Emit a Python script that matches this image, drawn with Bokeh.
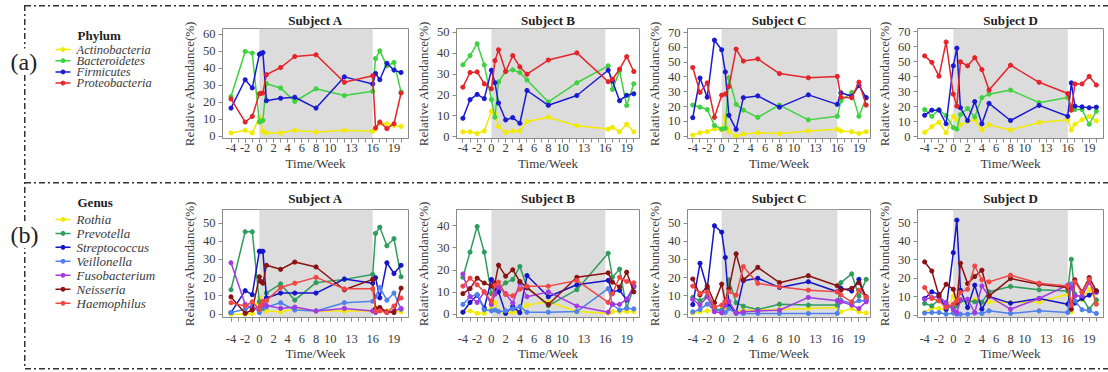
import numpy as np
from bokeh.plotting import figure
from bokeh.models import (Range1d, FixedTicker, BoxAnnotation, Label, Spacer, Styles,
                          ColumnDataSource)
from bokeh.core.properties import value
from bokeh.layouts import row, column
from bokeh.embed import file_html
from bokeh.resources import INLINE

SERIF = "Liberation Serif"

# ---------------- data ----------------
x_tick_values = [-4, -2, 0, 2, 4, 6, 8, 10, 13, 16, 19]
x_minor_ticks = list(range(-4, 21))
subjects = ["Subject A", "Subject B", "Subject C", "Subject D"]

weeks_A = [-4, -2, -1, 0, 0.2, 0.5, 1, 3, 5, 8, 12, 16, 16.4, 17, 18, 19, 20]
weeks_B = [-4, -3, -2, -1, 0, 0.5, 1, 2, 3, 4, 5, 8, 12, 16.4, 17, 18, 19, 20]
weeks_C = [-4, -3, -2, -1, 0, 0.5, 1, 2, 3, 5, 8, 12, 16, 16.5, 18, 19, 20]
weeks_D = [-4, -3, -2, -1, 0, 0.5, 1, 2, 3, 4, 5, 8, 12, 16, 16.5, 17, 18, 19, 20]

phylum_names = ["Actinobacteria", "Bacteroidetes", "Firmicutes", "Proteobacteria"]
phylum_colors = ["#f2ea00", "#3fd23f", "#1a1ad2", "#e4242a"]

phylum_A = {
    "Actinobacteria": [2, 3.5, 2, 11, 9, 3, 2, 2, 3.5, 2.5, 3.5, 3, 4.5, 7.8, 7.4, 6.4, 5.8],
    "Bacteroidetes": [23.4, 50, 49, 8.4, 8.8, 9.4, 31, 28.5, 20.5, 28, 24, 26.5, 45.8, 50.3, 41.5, 43.5, 26],
    "Firmicutes": [16.6, 33.3, 28.5, 48.3, 48.8, 49.3, 21, 22.4, 23, 16.6, 35, 30.8, 37, 33.3, 43, 39, 37.6],
    "Proteobacteria": [22, 8.4, 11.7, 25, 25.3, 25.5, 36.3, 40.5, 47, 48, 31.8, 35.7, 4.9, 8.4, 4.5, 7.4, 25.5],
}
phylum_B = {
    "Actinobacteria": [2.4, 2.4, 1.6, 2.8, 12.2, 11, 5, 2.1, 2.8, 2.8, 7.3, 9.4, 5.3, 3.7, 4.5, 2.4, 6, 2.4],
    "Bacteroidetes": [34.5, 38.9, 44.6, 34.4, 17.8, 9.4, 26.3, 31.3, 32.1, 30.8, 27.2, 16.7, 25.9, 34, 22.7, 31.6, 15, 25.4],
    "Firmicutes": [8.9, 17.8, 20.3, 18.3, 31.9, 25.9, 16.2, 8.1, 9.2, 6.5, 22.2, 15.1, 19.8, 31.9, 26.7, 17.3, 19.9, 20.6],
    "Proteobacteria": [23.8, 30.8, 31.1, 25.4, 23, 36.5, 41.7, 31.3, 38.9, 33.5, 30, 36.8, 40.2, 26.4, 27.6, 32.4, 38.4, 31.3],
}
phylum_C = {
    "Actinobacteria": [0.7, 2.3, 3, 4.8, 4.2, 13.4, 3, 0, 1.4, 2.3, 1.8, 3.5, 4.6, 3.5, 3, 1.8, 3],
    "Bacteroidetes": [21, 19.6, 18, 7.2, 4.8, 5.3, 39.5, 21.5, 17.6, 12.7, 21, 11, 13.4, 23.8, 29.6, 13.4, 26],
    "Firmicutes": [12.5, 39.3, 26.3, 64.9, 58.4, 43.4, 14.1, 4.6, 26, 27.2, 19.6, 27.9, 21.5, 29.3, 27, 34.2, 26],
    "Proteobacteria": [46.4, 29.6, 36, 12.7, 27.7, 28.4, 33.5, 58.9, 50.8, 52.2, 42.3, 39.5, 40.4, 26.3, 25.9, 36.5, 21],
}
phylum_D = {
    "Actinobacteria": [3, 6.8, 9.8, 2.7, 13.7, 11.4, 8, 10.3, 11.4, 4.6, 8, 4.6, 9.6, 11.4, 4.6, 8.4, 11.4, 13.7, 10.7],
    "Bacteroidetes": [18.2, 13.7, 18.2, 14.1, 6.2, 5.2, 14.8, 18.9, 13.2, 26.2, 28.5, 31.2, 22.8, 26.2, 20, 18.2, 18.2, 8.4, 17.1],
    "Firmicutes": [14.4, 17.8, 17.8, 8.7, 47.4, 59.2, 19.4, 10.9, 23.5, 8.7, 22.3, 10.9, 21, 13.7, 36, 20.5, 20, 19.4, 19.8],
    "Proteobacteria": [54, 49.7, 40.5, 63.3, 28.5, 20.5, 50.1, 47.4, 52.8, 44.9, 31.2, 47.8, 36.4, 28.9, 17.8, 35.3, 35.3, 40.3, 34.6],
}

genus_names = ["Rothia", "Prevotella", "Streptococcus", "Veillonella",
               "Fusobacterium", "Neisseria", "Haemophilus"]
genus_colors = ["#f2ea00", "#2e9d5c", "#1414c8", "#4f80ee", "#a33ae0", "#8a1212", "#f04646"]

genus_A = {
    "Rothia": [0, 0, 0.4, 8.9, 6, 3.6, 1.8, 1.3, 2.7, 1.8, 1.8, 1.8, 3.6, 2.1, 1.8, 1.8, 1.3],
    "Prevotella": [13.4, 45.2, 45.2, 6.9, 5, 3, 11.6, 16.6, 7.7, 17.3, 19.1, 21.8, 44.3, 47.7, 37.5, 41.4, 20.5],
    "Streptococcus": [0.9, 12.9, 10.7, 34.5, 34.5, 34.5, 8.9, 11.6, 11.6, 11.6, 19.3, 17, 20, 9, 28.2, 22.3, 26.8],
    "Veillonella": [0.9, 2.7, 4.5, 0.9, 3, 4.5, 3.9, 6.3, 2.3, 1.8, 6.3, 7.1, 9.8, 14.6, 7.7, 11.6, 2.7],
    "Fusobacterium": [28.2, 5.4, 3.2, 3.6, 4.5, 5, 4.8, 3.2, 3.9, 1.8, 3.2, 1.8, 0.9, 3.6, 0.9, 1.8, 3.2],
    "Neisseria": [9.5, 0.5, 2.3, 20.5, 18, 17, 26.8, 24.6, 28.6, 25.9, 13.4, 19.1, 3, 3.6, 1.3, 0.9, 14.3],
    "Haemophilus": [6.3, 4.5, 6.8, 2.7, 5, 7.1, 7.5, 14.6, 17, 20.2, 13.9, 13.9, 1.8, 1.8, 0.9, 4.5, 8.9],
}
genus_B = {
    "Rothia": [0.9, 1.5, 0.4, 0.4, 3.4, 5.3, 1.5, 0.4, 0.9, 1.2, 4.1, 5.6, 1.2, 0.4, 1.2, 1.2, 1.2, 1.2],
    "Prevotella": [16.7, 28.1, 39.7, 28.1, 9.3, 10.5, 11.6, 14.2, 15.7, 21.6, 12.3, 3.9, 11.1, 27.6, 16.7, 20.4, 2.7, 12.3],
    "Streptococcus": [0.9, 5.3, 8.6, 2.7, 15.7, 11.6, 10.1, 0.4, 3.4, 0.7, 17.5, 7.9, 13.3, 15.3, 10.1, 10.8, 6.4, 12.7],
    "Veillonella": [4.4, 7.9, 8.9, 2, 1.5, 1.9, 1.2, 1.5, 2.4, 3.4, 0.9, 0.9, 1.2, 11.6, 4.4, 1.9, 2.7, 2.4],
    "Fusobacterium": [18.2, 7.9, 5.3, 10.1, 4.4, 9, 12.3, 9.3, 5, 14.2, 7.9, 10.1, 3.7, 0.9, 4.6, 4.4, 6.8, 12.7],
    "Neisseria": [9.3, 11.6, 16.3, 14.1, 12.7, 14.2, 22.2, 17.2, 20.1, 14.8, 11.9, 4.4, 16.7, 18.7, 14.5, 12.3, 19, 10.1],
    "Haemophilus": [12.7, 16.3, 13.3, 10.1, 5.9, 13, 14.5, 8.9, 8.3, 11.3, 12.7, 12.7, 15.3, 5.3, 9.3, 16.7, 14.8, 14.2],
}
genus_C = {
    "Rothia": [0.7, 1.3, 1.8, 2.2, 2.6, 3.1, 4, 1.3, 2.2, 2.2, 2.6, 3.1, 3.7, 1.3, 3.1, 1.3, 0.7],
    "Prevotella": [9.2, 7.4, 9.9, 3.1, 2.2, 5, 18.8, 6.3, 4.4, 2.6, 5.5, 5, 5, 17.3, 22.1, 9.9, 19.1],
    "Streptococcus": [5.3, 27.9, 14.2, 48.5, 45, 31.1, 5, 0.7, 18.4, 19.7, 14.7, 17.8, 12.3, 14.2, 12.7, 19.1, 8.1],
    "Veillonella": [1.3, 2.6, 5.5, 2.2, 1.8, 1, 3, 0.4, 0.4, 0.4, 0.4, 0.4, 0.4, 7.7, 5.9, 7.4, 7.4],
    "Fusobacterium": [8.1, 5, 9.6, 1.3, 0.7, 5, 7, 0.7, 1.3, 1.8, 2.2, 9.2, 7.4, 6.8, 5, 3.1, 6.8],
    "Neisseria": [19.3, 10.5, 15.4, 6.3, 16.5, 6.8, 14, 33.1, 18.8, 25.7, 17.3, 21.1, 15.6, 13.2, 14.2, 17.3, 9.6],
    "Haemophilus": [15.4, 11.4, 12.3, 4, 5, 6.8, 12.3, 10.5, 26.1, 16.9, 15.1, 13.2, 12.3, 10.5, 6.8, 13.2, 9.2],
}
genus_D = {
    "Rothia": [1.4, 4.1, 3.6, 2.9, 10.4, 5, 8.6, 6.8, 8.3, 6.8, 7.2, 6.8, 7.2, 11.3, 1.8, 7.7, 8.3, 14, 7.7],
    "Prevotella": [6.3, 5, 8.3, 4.1, 4.1, 5, 7.7, 7.7, 7.2, 7, 12.6, 15.5, 13.7, 13.1, 30.2, 11.3, 9.5, 3.2, 8.3],
    "Streptococcus": [9, 12.6, 11.3, 3, 33.8, 51.4, 13.5, 4.1, 16.2, 3.2, 10.1, 6.5, 9, 5.9, 16.7, 6.5, 9, 10.8, 13.1],
    "Veillonella": [1.1, 1.4, 1.4, 0.5, 1.1, 0.5, 0.5, 0.5, 1.1, 0.9, 2.3, 0.9, 2.3, 1.4, 16.7, 7.7, 2.9, 2.3, 0.9],
    "Fusobacterium": [8.6, 9.5, 10.1, 6.8, 3, 1.4, 8.3, 8.6, 1.4, 15.8, 10.1, 3.2, 9, 16.2, 14.9, 10.4, 10.4, 17.6, 12.2],
    "Neisseria": [28.8, 23.9, 10.4, 16.7, 14, 6.8, 28.1, 17.1, 20.9, 24.3, 10.4, 19.8, 16.7, 14.9, 3.2, 19.1, 12.6, 20.3, 13.1],
    "Haemophilus": [14.9, 9, 7.7, 4.1, 6, 7.7, 12.2, 14, 26.6, 19.1, 18, 21.6, 17.3, 15.8, 5.4, 18, 12.2, 19.4, 5.9],
}

treatment_start, treatment_end = 0, 16

phylum_yticks = [list(range(0, 61, 10)), list(range(0, 51, 10)), list(range(0, 71, 10)), list(range(0, 71, 10))]
genus_yticks = [list(range(0, 51, 10)), list(range(0, 41, 10)), list(range(0, 51, 10)), list(range(0, 51, 10))]

# ---------------- layout / style ----------------
x_ranges = [(-5.2, 21.05), (-4.9, 20.8), (-4.73, 20.6), (-5.0, 21.0)]
phylum_yranges = [(-1.3, 63.5), (-0.8, 51.9), (-1.6, 72.8), (-1.1, 72.3)]
genus_yranges = [(-1.8, 57.4), (-1.5, 47.4), (-1.8, 57.4), (-1.3, 57.2)]
border_left = [42, 40, 41, 40]
border_right = [4, 4, 3, 5]
frame_w = [188, 187, 186, 190]
LEG_W = 178
TXT = "#3a3a3a"
AX = "#8a8a8a"


def panel(title, weeks, series, names, colors, xr, yr, yticks, h, bt, bb, bl, br, fw,
          title_standoff, xlabel_standoff, xaxis_label_standoff):
    p = figure(width=bl + fw + br, height=h, x_range=Range1d(*xr), y_range=Range1d(*yr),
               output_backend="svg", toolbar_location=None,
               min_border_left=bl, min_border_right=br, min_border_top=bt,
               min_border_bottom=bb, title=title, border_fill_color=None)
    p.title.text_font = SERIF
    p.title.text_font_style = "bold"
    p.title.text_font_size = "13px"
    p.title.align = "center"
    p.title.text_color = "#222222"
    p.title.standoff = title_standoff
    p.xgrid.visible = False
    p.ygrid.visible = False
    p.outline_line_color = AX
    p.outline_line_width = 1
    p.add_layout(BoxAnnotation(left=treatment_start, right=treatment_end, fill_color="#dcdcdc",
                               fill_alpha=1.0, line_color=None, level="underlay"))
    for n, c in zip(names, colors):
        p.line(weeks, series[n], line_color=c, line_width=1.5)
        p.scatter(weeks, series[n], size=4.2, fill_color=c, line_color=c)
    xa = p.xaxis[0]
    xa.ticker = FixedTicker(ticks=x_tick_values, minor_ticks=x_minor_ticks)
    xa.major_label_overrides = {t: str(t) for t in x_tick_values}
    ya = p.yaxis[0]
    ya.ticker = FixedTicker(ticks=yticks, minor_ticks=[])
    xa.axis_label = "Time/Week"
    ya.axis_label = "Relative Abundance(%)"
    for ax in (xa, ya):
        ax.axis_line_color = AX
        ax.major_tick_line_color = AX
        ax.minor_tick_line_color = AX
        ax.major_tick_out = 4
        ax.major_tick_in = 0
        ax.minor_tick_out = 4
        ax.minor_tick_in = 0
        ax.major_label_text_font = SERIF
        ax.major_label_text_font_size = "12.5px"
        ax.major_label_text_color = TXT
        ax.axis_label_text_font = SERIF
        ax.axis_label_text_font_size = "13px"
        ax.axis_label_text_font_style = "normal"
        ax.axis_label_text_color = TXT
    ya.major_label_standoff = 3
    ya.axis_label_standoff = 3
    xa.major_label_standoff = xlabel_standoff
    xa.axis_label_standoff = xaxis_label_standoff
    return p


def legend_fig(h, bt, bb, tag, tag_y, head, head_y, names, colors, font_size, y0, step,
               head_as_title):
    # frame is aligned with the sibling panels (top bt, bottom h-bb); data units = pixels
    p = figure(width=LEG_W, height=h, x_range=Range1d(0, LEG_W), y_range=Range1d(h - bb, bt),
               output_backend="svg", toolbar_location=None, min_border=0,
               x_axis_type=None, y_axis_type=None,
               border_fill_color=None, background_fill_color=None)
    p.grid.visible = False
    p.outline_line_color = None
    p.add_layout(Label(x=10, y=tag_y, text=tag, text_font=SERIF, text_font_size="24px",
                       text_baseline="middle", text_color="#222222",
                       background_fill_color="white"))
    if head_as_title:
        p.title.text = head
        p.title.text_font = SERIF
        p.title.text_font_style = "bold"
        p.title.text_font_size = "13px"
        p.title.text_color = "#222222"
        p.title.align = "left"
        p.title.offset = 77
        p.title.standoff = 0
    else:
        p.add_layout(Label(x=77, y=head_y, text=head, text_font=SERIF, text_font_size="13px",
                           text_font_style="bold", text_baseline="middle",
                           text_color="#222222"))
    ys = [y0 + i * step for i in range(len(names))]
    src = ColumnDataSource(dict(y=ys, name=names, color=colors,
                                x0=[55] * len(names), x1=[70] * len(names),
                                xm=[62.5] * len(names), xt=[76] * len(names)))
    p.segment(x0="x0", y0="y", x1="x1", y1="y", line_color="color", line_width=1.5, source=src)
    p.scatter(x="xm", y="y", size=4, fill_color="color", line_color="color", source=src)
    p.text(x="xt", y="y", text="name", text_font=value(SERIF), text_font_style="italic",
           text_font_size=value(font_size), text_baseline="middle", text_color=TXT, source=src)
    return p


weeks_all = [weeks_A, weeks_B, weeks_C, weeks_D]
phylum_all = [phylum_A, phylum_B, phylum_C, phylum_D]
genus_all = [genus_A, genus_B, genus_C, genus_D]

H_A, BT_A, BB_A = 173, 20, 43
H_B, BT_B, BB_B = 184, 24, 51
row_a = [legend_fig(H_A, BT_A, BB_A, "(a)", 53, "Phylum", 27, phylum_names, phylum_colors,
                    "12.5px", 41, 11.2, False)]
row_b = [legend_fig(H_B, BT_B, BB_B, "(b)", 50, "Genus", 18, genus_names, genus_colors,
                    "13px", 34, 14.1, True)]
for i in range(4):
    row_a.append(panel(subjects[i], weeks_all[i], phylum_all[i], phylum_names, phylum_colors,
                       x_ranges[i], phylum_yranges[i], phylum_yticks[i], H_A, BT_A, BB_A,
                       border_left[i], border_right[i], frame_w[i], 1, 1, 1))
    row_b.append(panel(subjects[i], weeks_all[i], genus_all[i], genus_names, genus_colors,
                       x_ranges[i], genus_yranges[i], genus_yticks[i], H_B, BT_B, BB_B,
                       border_left[i], border_right[i], frame_w[i], 8, 13, 0))

hgrad = ("repeating-linear-gradient(to right, #333 0px, #333 6px, transparent 6px, transparent 9px, "
         "#333 9px, #333 11px, transparent 11px, transparent 14px)")
vgrad = ("repeating-linear-gradient(to bottom, #333 0px, #333 6px, transparent 6px, transparent 9px, "
         "#333 9px, #333 11px, transparent 11px, transparent 14px)")
frame_lines = Styles(
    background_image=f"{vgrad}, {hgrad}, {hgrad}, {hgrad}",
    background_position="24px 5px, 25px 5px, 25px 181.5px, 25px 368px",
    background_size="1.5px 364px, 1083px 1.5px, 1083px 1.5px, 1083px 1.5px",
    background_repeat="no-repeat",
)

layout = column(Spacer(width=1108, height=8), row(*row_a), Spacer(width=1108, height=3),
                row(*row_b), Spacer(width=1108, height=2), styles=frame_lines)

with open("out.html", "w") as f:
    f.write(file_html(layout, INLINE))
